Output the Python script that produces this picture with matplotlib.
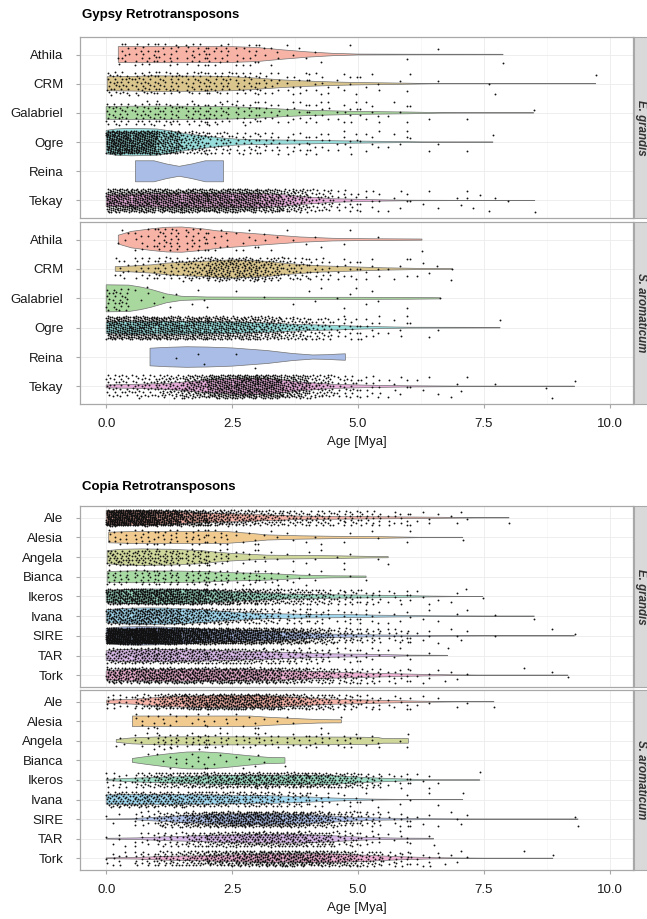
import numpy as np
import matplotlib
matplotlib.use('Agg')
import matplotlib.pyplot as plt

plt.rcParams['font.family'] = ['Liberation Sans', 'DejaVu Sans']

# ---- categories / colours ----
gypsy_names = ['Athila', 'CRM', 'Galabriel', 'Ogre', 'Reina', 'Tekay']
copia_names = ['Ale', 'Alesia', 'Angela', 'Bianca', 'Ikeros', 'Ivana', 'SIRE', 'TAR', 'Tork']
gypsy_colors = ['#F7B3A6', '#DAC58D', '#A9D89E', '#97DDDB', '#A9BDE6', '#E8AEDA']
copia_colors = ['#F6B3A8', '#F0CA8E', '#CFD79B', '#A8DAA3', '#9FDCC6', '#A1D8EF',
                '#AFC1EA', '#D8B9E7', '#F1B3D5']
species = ['E. grandis', 'S. aromaticum']
x_ticks = [0, 2.5, 5, 7.5, 10]
x_tick_labels = ['0.0', '2.5', '5.0', '7.5', '10.0']

# point counts are per 0.5 Mya bin, starting at 0
bin_edges = np.arange(0, 10.01, 0.5)

# ---- violin outlines (age, half width) ----
# Gypsy, E. grandis
gy_eg_age = [[0.24, 0.5, 1.5, 2.5, 3.0, 3.5, 4.0, 4.5, 5.0, 6.0, 7.88],
             [0.02, 0.5, 1.0, 1.5, 2.0, 2.5, 3.0, 3.5, 4.0, 4.5, 5.0, 5.9, 6.5, 9.72],
             [0.0, 0.5, 1.5, 2.5, 3.0, 3.5, 4.0, 4.5, 5.0, 5.5, 6.0, 6.6, 7.0, 8.49],
             [0.0, 0.2, 0.5, 1.0, 1.3, 1.6, 2.0, 2.3, 2.6, 3.0, 4.0, 5.0, 6.0, 6.4, 7.0, 7.68],
             [0.58, 0.95, 1.2, 1.45, 1.7, 1.97, 2.33],
             [0.0, 0.5, 1.5, 2.5, 3.0, 3.5, 4.0, 4.5, 5.0, 5.5, 6.0, 7.0, 8.51]]
gy_eg_hw = [[0.27, 0.28, 0.28, 0.27, 0.24, 0.16, 0.09, 0.04, 0.015, 0.01, 0.008],
            [0.24, 0.25, 0.27, 0.26, 0.26, 0.24, 0.19, 0.13, 0.09, 0.06, 0.04, 0.02, 0.003, 0.003],
            [0.22, 0.23, 0.23, 0.21, 0.18, 0.13, 0.09, 0.07, 0.05, 0.04, 0.03, 0.01, 0.003, 0.003],
            [0.40, 0.45, 0.47, 0.45, 0.38, 0.28, 0.2, 0.14, 0.1, 0.08, 0.06, 0.035, 0.015, 0.005, 0.003, 0.005],
            [0.36, 0.36, 0.25, 0.17, 0.25, 0.36, 0.36],
            [0.2, 0.22, 0.24, 0.25, 0.24, 0.2, 0.12, 0.06, 0.04, 0.02, 0.01, 0.005, 0.005]]
gy_eg_n = [[10, 20, 18, 20, 18, 15, 8, 4, 2, 1, 0, 1, 0, 1, 0, 1],
           [35, 35, 30, 30, 30, 25, 18, 12, 10, 8, 5, 2, 1, 1, 0, 2, 0, 0, 0, 1],
           [30, 30, 30, 28, 25, 22, 15, 12, 12, 10, 8, 5, 2, 0, 1, 0, 1],
           [220, 200, 120, 60, 35, 25, 20, 15, 12, 10, 7, 5, 2, 1, 1, 1],
           [],
           [150, 160, 160, 160, 160, 150, 120, 80, 40, 20, 10, 6, 3, 2, 5, 3, 0, 1]]

# Gypsy, S. aromaticum
gy_sa_age = [[0.24, 0.5, 0.9, 1.2, 1.5, 1.9, 2.2, 2.5, 3.2, 3.85, 4.5, 5.2, 6.27],
             [0.18, 0.5, 0.9, 1.2, 1.9, 2.5, 3.2, 3.5, 4.2, 4.85, 5.5, 6.2, 6.87],
             [0.0, 0.45, 0.7, 0.9, 1.2, 1.5, 2.0, 3.0, 4.0, 5.0, 6.0, 6.63],
             [0.0, 0.5, 1.5, 2.5, 3.2, 3.8, 4.5, 5.0, 5.5, 6.0, 7.82],
             [0.87, 1.2, 1.6, 2.0, 2.5, 3.2, 3.7, 4.1, 4.4, 4.6, 4.75],
             [0.0, 0.6, 1.2, 1.9, 2.5, 3.2, 3.85, 4.5, 5.2, 6.0, 7.0, 9.3]]
gy_sa_hw = [[0.15, 0.28, 0.37, 0.42, 0.43, 0.37, 0.3, 0.26, 0.17, 0.09, 0.045, 0.03, 0.02],
            [0.08, 0.1, 0.14, 0.2, 0.26, 0.31, 0.26, 0.2, 0.11, 0.075, 0.04, 0.02, 0.015],
            [0.46, 0.45, 0.38, 0.3, 0.15, 0.07, 0.045, 0.04, 0.035, 0.035, 0.03, 0.02],
            [0.2, 0.22, 0.22, 0.2, 0.16, 0.11, 0.08, 0.05, 0.03, 0.015, 0.01],
            [0.3, 0.33, 0.35, 0.34, 0.31, 0.22, 0.12, 0.07, 0.08, 0.1, 0.11],
            [0.05, 0.07, 0.1, 0.2, 0.27, 0.27, 0.15, 0.07, 0.04, 0.02, 0.01, 0.01]]
gy_sa_n = [[4, 12, 25, 20, 12, 8, 5, 3, 2, 2, 1, 0, 1],
           [10, 20, 30, 50, 80, 80, 60, 35, 20, 12, 8, 5, 4, 3],
           [30, 5, 3, 3, 1, 1, 1, 1, 3, 4, 3, 1, 0, 1],
           [150, 150, 140, 130, 120, 110, 90, 60, 35, 20, 12, 6, 2, 1, 0, 1],
           [0, 0, 1, 2, 0, 2],
           [35, 40, 60, 100, 150, 170, 160, 110, 60, 30, 15, 8, 4, 3, 2, 1, 0, 2, 1]]

# Copia, E. grandis
co_eg_age = [[0.0, 0.5, 1.0, 1.9, 2.9, 3.85, 4.5, 5.5, 6.5, 7.3, 8.0],
             [0.05, 0.5, 1.5, 2.4, 2.86, 3.2, 3.85, 4.5, 5.5, 6.2, 7.08],
             [0.02, 0.3, 0.7, 1.3, 1.9, 2.2, 2.5, 3.2, 4.5, 5.2, 5.6],
             [0.02, 0.5, 1.5, 2.0, 2.5, 3.2, 3.85, 4.5, 5.16],
             [0.0, 0.4, 0.8, 1.5, 2.2, 2.86, 3.5, 4.5, 5.5, 6.5, 6.9, 7.48],
             [0.0, 0.4, 0.8, 1.2, 1.87, 2.5, 3.2, 4.0, 5.0, 5.4, 6.5, 7.5, 8.5],
             [0.0, 0.3, 0.7, 1.1, 1.5, 2.2, 3.2, 3.85, 4.5, 5.5, 6.5, 7.5, 9.3],
             [0.0, 0.3, 1.0, 2.0, 2.5, 3.2, 3.85, 4.5, 5.5, 6.0, 6.78],
             [0.0, 0.3, 1.0, 2.0, 3.0, 3.85, 4.5, 5.5, 6.3, 6.87, 7.5, 9.17]]
co_eg_hw = [[0.38, 0.38, 0.35, 0.25, 0.17, 0.085, 0.07, 0.05, 0.03, 0.01, 0.005],
            [0.27, 0.3, 0.31, 0.3, 0.21, 0.13, 0.085, 0.06, 0.04, 0.01, 0.01],
            [0.33, 0.4, 0.42, 0.4, 0.33, 0.25, 0.19, 0.1, 0.07, 0.04, 0.03],
            [0.27, 0.3, 0.29, 0.26, 0.21, 0.17, 0.085, 0.05, 0.04],
            [0.3, 0.36, 0.38, 0.37, 0.3, 0.21, 0.13, 0.085, 0.06, 0.02, 0.01, 0.005],
            [0.33, 0.4, 0.42, 0.41, 0.34, 0.21, 0.13, 0.09, 0.07, 0.05, 0.02, 0.01, 0.01],
            [0.38, 0.45, 0.47, 0.45, 0.4, 0.3, 0.25, 0.17, 0.085, 0.04, 0.02, 0.01, 0.005],
            [0.25, 0.3, 0.31, 0.28, 0.24, 0.19, 0.13, 0.085, 0.05, 0.02, 0.01],
            [0.22, 0.28, 0.3, 0.3, 0.28, 0.21, 0.15, 0.085, 0.04, 0.02, 0.005, 0.005]]
co_eg_n = [[250, 230, 170, 120, 80, 60, 45, 35, 30, 25, 20, 12, 6, 3, 2, 1],
           [12, 15, 15, 15, 12, 6, 4, 3, 2, 2, 2, 1, 1, 0, 1],
           [40, 40, 35, 30, 18, 8, 5, 3, 3, 3, 1, 1],
           [20, 22, 22, 20, 18, 15, 12, 6, 3, 2, 1],
           [120, 140, 140, 120, 100, 80, 60, 45, 35, 25, 15, 8, 5, 3, 2],
           [90, 100, 90, 70, 55, 40, 30, 20, 15, 10, 8, 4, 3, 2, 1, 1, 1],
           [350, 380, 300, 220, 180, 150, 130, 100, 60, 30, 20, 15, 6, 3, 2, 1, 0, 1, 1],
           [55, 65, 65, 60, 55, 50, 40, 30, 20, 12, 8, 4, 2, 1],
           [80, 95, 100, 100, 100, 95, 85, 65, 45, 30, 20, 12, 6, 4, 1, 0, 1, 1, 1]]

# Copia, S. aromaticum
co_sa_age = [[0.01, 0.5, 1.2, 1.9, 2.5, 3.2, 3.85, 4.5, 5.2, 6.2, 7.0, 7.7],
             [0.52, 1.0, 2.0, 2.86, 3.2, 3.85, 4.2, 4.5, 4.67],
             [0.2, 0.5, 1.0, 2.0, 3.0, 4.0, 5.0, 5.4, 5.5, 6.0],
             [0.52, 0.8, 1.2, 1.6, 1.9, 2.3, 2.8, 3.2, 3.55],
             [0.0, 0.5, 1.2, 1.9, 2.5, 3.5, 4.5, 5.2, 5.8, 6.5, 7.42],
             [0.0, 0.5, 1.5, 2.5, 3.2, 3.85, 4.5, 5.0, 5.4, 6.0, 7.08],
             [0.0, 0.5, 0.87, 1.5, 2.2, 2.9, 3.5, 4.2, 4.85, 5.5, 6.5, 7.2, 8.0, 9.37],
             [0.0, 0.6, 1.2, 1.9, 2.5, 3.2, 3.85, 4.5, 5.2, 5.8, 6.5],
             [0.0, 0.6, 1.2, 1.9, 2.5, 3.2, 4.5, 5.2, 5.8, 6.5, 7.0, 7.5, 8.87]]
co_sa_hw = [[0.08, 0.12, 0.25, 0.3, 0.31, 0.3, 0.21, 0.13, 0.085, 0.03, 0.005, 0.005],
            [0.27, 0.27, 0.27, 0.27, 0.21, 0.13, 0.09, 0.08, 0.08],
            [0.07, 0.15, 0.2, 0.21, 0.2, 0.2, 0.19, 0.17, 0.12, 0.12],
            [0.1, 0.2, 0.33, 0.43, 0.44, 0.38, 0.25, 0.16, 0.14],
            [0.03, 0.09, 0.15, 0.2, 0.23, 0.24, 0.22, 0.12, 0.06, 0.005, 0.005],
            [0.24, 0.25, 0.25, 0.22, 0.2, 0.15, 0.08, 0.04, 0.02, 0.005, 0.005],
            [0.01, 0.02, 0.08, 0.17, 0.24, 0.26, 0.26, 0.2, 0.1, 0.05, 0.02, 0.01, 0.003, 0.005],
            [0.02, 0.04, 0.1, 0.15, 0.2, 0.22, 0.22, 0.15, 0.06, 0.03, 0.02],
            [0.02, 0.04, 0.1, 0.13, 0.17, 0.22, 0.22, 0.15, 0.08, 0.03, 0.015, 0.005, 0.005]]
co_sa_n = [[15, 30, 60, 90, 100, 100, 90, 60, 40, 25, 15, 8, 5, 2, 1, 1],
           [0, 8, 8, 6, 6, 6, 3, 2, 1, 1],
           [3, 8, 20, 18, 15, 12, 12, 10, 12, 10, 6, 3],
           [0, 1, 6, 8, 5, 4, 2, 1],
           [15, 30, 45, 55, 65, 70, 70, 70, 60, 45, 25, 10, 6, 1, 1],
           [50, 55, 55, 50, 45, 40, 35, 25, 12, 8, 4, 2, 2, 1, 1],
           [3, 15, 40, 70, 95, 105, 100, 85, 60, 35, 20, 10, 5, 3, 2, 0, 0, 0, 2],
           [5, 10, 20, 35, 50, 60, 65, 60, 45, 25, 12, 6, 3],
           [10, 20, 35, 50, 70, 85, 95, 95, 80, 60, 35, 20, 10, 5, 2, 0, 1, 1]]

# ---- layout (pixels) ----
W, H = 647, 919
fig = plt.figure(figsize=(W / 100, H / 100), dpi=100)


def box(l, t, r, b):
    return [l / W, 1 - b / H, (r - l) / W, (b - t) / H]


def draw_facet(ax, names, colors, ages, hws, counts, show_x):
    n = len(names)
    for i in range(n):
        a = np.array(ages[i])
        h = np.array(hws[i])
        xs = np.concatenate([a, a[::-1]])
        ys = np.concatenate([i - h, (i + h)[::-1]])
        ax.fill(xs, ys, facecolor=colors[i], edgecolor='#727272', lw=0.5, zorder=2)
        # jittered points, spread evenly inside each age bin
        lo, hi = a[0], a[-1]
        px, py = [], []
        for k, c in enumerate(counts[i]):
            if c == 0:
                continue
            x0 = max(bin_edges[k], lo)
            x1 = min(bin_edges[k + 1], hi)
            j = np.arange(c)
            fx = (0.5 + j * 0.7548777 + 0.13 * k) % 1
            fy = (0.5 + j * 0.5698403 + 0.29 * k + 0.11 * i) % 1
            xx = x0 + (x1 - x0) * fx
            if x1 >= hi:
                xx[-1] = hi
            px.append(xx)
            py.append(i + 0.4 * (2 * fy - 1))
        if px:
            ax.scatter(np.concatenate(px), np.concatenate(py), s=1.8, c='#111111',
                       linewidths=0, zorder=3)

    ax.set_xlim(-0.52, 10.46)
    ax.set_ylim(n - 1 + 0.6, -0.6)
    ax.set_yticks(range(n))
    ax.set_yticklabels(names, fontsize=9.5, color='#1a1a1a')
    ax.set_xticks(x_ticks)
    ax.set_xticks([1.25, 3.75, 6.25, 8.75], minor=True)
    ax.grid(which='major', color='#EBEBEB', lw=0.6)
    ax.grid(which='minor', axis='x', color='#F4F4F4', lw=0.4)
    ax.set_axisbelow(True)
    for sp in ax.spines.values():
        sp.set_color('#A8A8A8')
        sp.set_linewidth(0.9)
    ax.tick_params(axis='y', length=3, color='#A8A8A8', pad=9)
    ax.tick_params(which='minor', length=0)
    if show_x:
        ax.set_xticklabels(x_tick_labels)
        ax.tick_params(axis='x', length=3, color='#A8A8A8', pad=7,
                       labelsize=9.5, labelcolor='#1a1a1a')
    else:
        ax.tick_params(axis='x', length=0, labelbottom=False)


def draw_strip(t, b, label):
    sax = fig.add_axes(box(634, t, 652, b))
    sax.set_facecolor('#D9D9D9')
    sax.set_xticks([])
    sax.set_yticks([])
    for sp in sax.spines.values():
        sp.set_color('#A8A8A8')
    fig.text(640.7 / W, 1 - (t + b) / 2 / H, label, rotation=-90, ha='center',
             va='center', fontsize=8.3, fontweight='bold', fontstyle='italic',
             color='#333333')


panels = [
    (37, 218, gypsy_names, gypsy_colors, gy_eg_age, gy_eg_hw, gy_eg_n, False, species[0]),
    (222, 404, gypsy_names, gypsy_colors, gy_sa_age, gy_sa_hw, gy_sa_n, True, species[1]),
    (506, 687, copia_names, copia_colors, co_eg_age, co_eg_hw, co_eg_n, False, species[0]),
    (690, 870, copia_names, copia_colors, co_sa_age, co_sa_hw, co_sa_n, True, species[1]),
]
for t, b, names, cols, ag, hw, cn, show_x, sp in panels:
    ax = fig.add_axes(box(80, t, 633, b))
    draw_facet(ax, names, cols, ag, hw, cn, show_x)
    draw_strip(t, b, sp)

fig.text(82 / W, 1 - 15 / H, 'Gypsy Retrotransposons', fontsize=9.5,
         fontweight='bold', va='center', ha='left')
fig.text(82 / W, 1 - 487 / H, 'Copia Retrotransposons', fontsize=9.5,
         fontweight='bold', va='center', ha='left')
fig.text(356.5 / W, 1 - 442 / H, 'Age [Mya]', fontsize=9.5, ha='center', va='center',
         color='#1a1a1a')
fig.text(356.5 / W, 1 - 908 / H, 'Age [Mya]', fontsize=9.5, ha='center', va='center',
         color='#1a1a1a')

fig.savefig('out.png', dpi=100)
plt.close(fig)
